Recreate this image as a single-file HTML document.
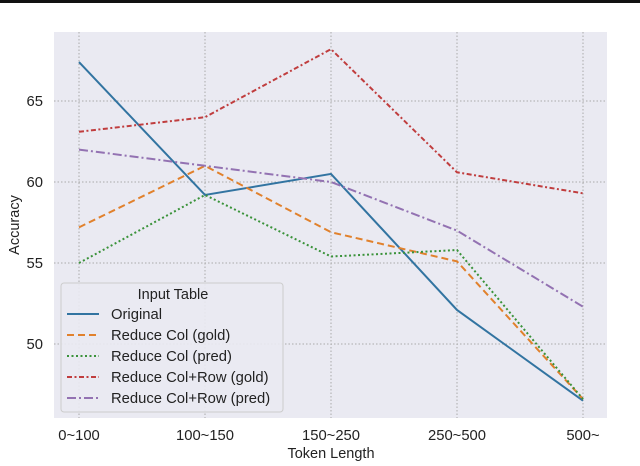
<!DOCTYPE html>
<html><head><meta charset="utf-8"><style>
body{margin:0;background:#fff;width:640px;height:461px;overflow:hidden;font-family:"Liberation Sans",sans-serif;}
</style></head><body>
<svg width="640" height="461" font-family="Liberation Sans, sans-serif">
<rect x="0" y="0" width="640" height="3" fill="#111"/>
<rect x="54" y="32" width="553" height="386" fill="#eaeaf2"/>
<g id="grid"></g>
<g id="series"></g>
<g id="legend"></g>
<text x="331" y="458" text-anchor="middle" font-size="14.5" fill="#222">Token Length</text>
<text transform="translate(19,225) rotate(-90)" text-anchor="middle" font-size="14.5" fill="#222">Accuracy</text>
</svg>
<script>
const categories=["0~100","100~150","150~250","250~500","500~"];
const yTicks=[50,55,60,65];
const original=[67.4,59.2,60.5,52.1,46.5];
const colGold=[57.2,61.0,56.9,55.1,46.6];
const colPred=[55.0,59.2,55.4,55.8,46.6];
const rowGold=[63.1,64.0,68.2,60.6,59.3];
const rowPred=[62.0,61.0,60.0,57.0,52.3];
const seriesNames=["Original","Reduce Col (gold)","Reduce Col (pred)","Reduce Col+Row (gold)","Reduce Col+Row (pred)"];
const NS="http://www.w3.org/2000/svg";
function xs(i){return 79+i*126;}
function ys(v){return 182-(v-60)*16.2;}
function mk(tag,attrs,parent){const e=document.createElementNS(NS,tag);for(const k in attrs)e.setAttribute(k,attrs[k]);parent.appendChild(e);return e;}
const grid=document.getElementById('grid');
categories.forEach((c,i)=>{
 const l=mk('line',{x1:xs(i),x2:xs(i),y1:32,y2:418,stroke:'#aaa','stroke-width':1,'stroke-dasharray':'1.5,2'},grid);
 
 
 const t=mk('text',{x:xs(i),y:440,'text-anchor':'middle','font-size':14.8,fill:'#222'},grid);
 t.textContent=c;
 
 
});
yTicks.forEach(v=>{
 const l=mk('line',{x1:54,x2:607,y1:ys(v),y2:ys(v),stroke:'#aaa','stroke-width':1,'stroke-dasharray':'1.5,2'},grid);
 
 
 const t=mk('text',{x:43,y:ys(v)+5,'text-anchor':'end','font-size':14.8,fill:'#222'},grid);
 t.textContent=v;
 
 
});
const styles=[
 {c:'#3274a1',d:''},
 {c:'#e1812c',d:'7,4'},
 {c:'#3a923a',d:'2,2.5'},
 {c:'#c03d3e',d:'5,2.5,2,2.5'},
 {c:'#9372b2',d:'9,3,2,3'}];
const data=[original,colGold,colPred,rowGold,rowPred];
const sg=document.getElementById('series');
data.forEach((arr,si)=>{
 const p=mk('polyline',{points:arr.map((v,i)=>xs(i)+','+ys(v)).join(' '),fill:'none',stroke:styles[si].c,'stroke-width':2,'stroke-dasharray':styles[si].d},sg);
 
 
});
const lg=document.getElementById('legend');
const box=mk('rect',{x:61,y:283,width:222,height:129,rx:3,fill:'#eaeaf2',stroke:'#ccc','fill-opacity':0.9},lg);


const tt=mk('text',{x:173,y:299,'text-anchor':'middle','font-size':14.5,fill:'#222'},lg);
tt.textContent='Input Table';


seriesNames.forEach((n,i)=>{
 const y=314+i*21;
 const l=mk('line',{x1:67,x2:99,y1:y,y2:y,stroke:styles[i].c,'stroke-width':2,'stroke-dasharray':styles[i].d},lg);
 
 
 const t=mk('text',{x:111,y:y+5,'font-size':14.8,fill:'#222'},lg);
 t.textContent=n;
 
 
});
</script>
</body></html>
